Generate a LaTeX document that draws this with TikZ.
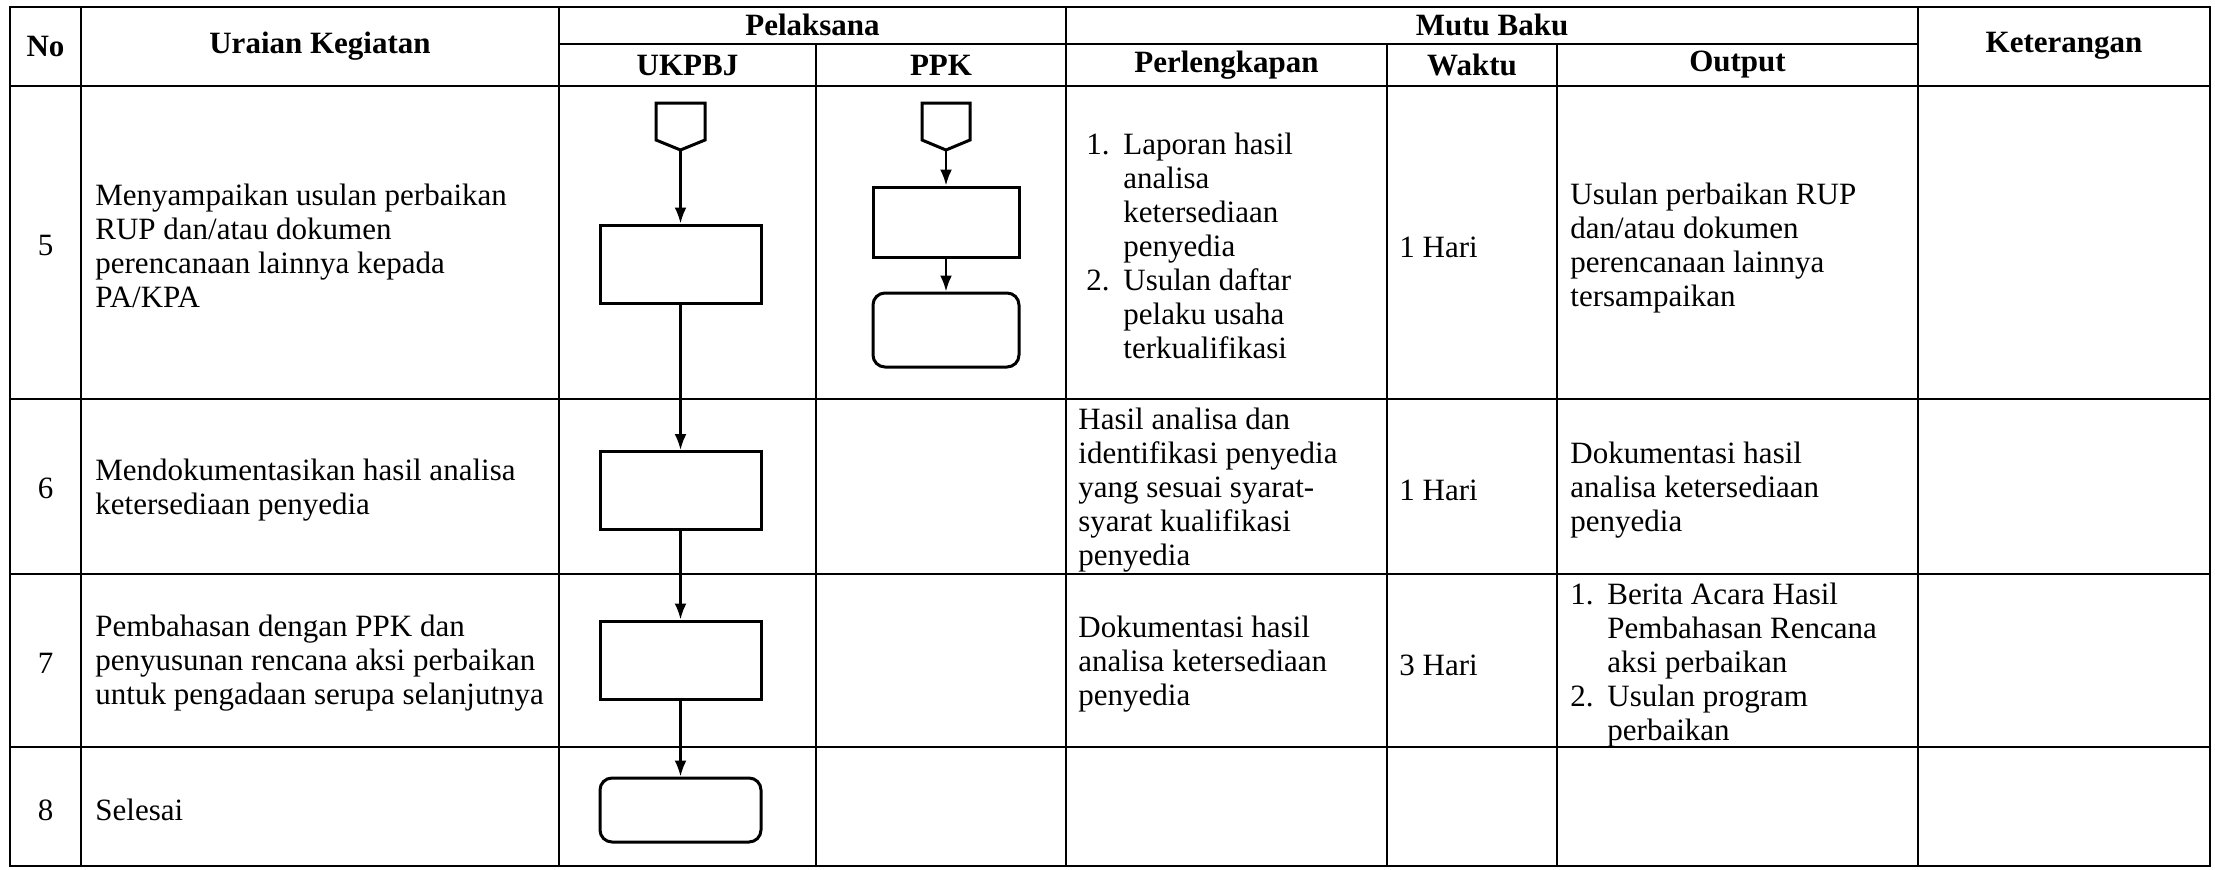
\documentclass[tikz,border=0pt]{standalone}
\usepackage{fontspec}
\setmainfont{Liberation Serif}
\usetikzlibrary{arrows.meta}
\newcommand{\numitem}[1]{\makebox[18.5pt][l]{#1}}
\newcommand{\numindent}{\hspace*{18.5pt}}
\tikzset{
  grid/.style={line width=1pt},
  txt/.style={anchor=west, align=left, inner sep=0pt, font=\fontsize{15.5}{17}\selectfont},
  num/.style={inner sep=0pt, font=\fontsize{15.5}{17}\selectfont},
  hdr/.style={inner sep=0pt, font=\bfseries\fontsize{15.5}{17}\selectfont},
  proc/.style={draw, line width=1.5pt, minimum width=80.5pt, minimum height=39pt, inner sep=0pt},
  term/.style={proc, rounded corners=6pt},
  flow/.style={line width=1.2pt, -{Latex[length=8pt,width=6pt]}},
}
\begin{document}
\begin{tikzpicture}[x=0.5pt, y=-0.5pt]
\fill[white] (0,0) rectangle (2215,869);
\useasboundingbox (0,0) rectangle (2215,869);
% table frame
\draw[grid] (10,7) rectangle (2210,866);
\draw[grid] (559,44) -- (1918,44);
\draw[grid] (10,86) -- (2210,86);
\draw[grid] (10,399) -- (2210,399);
\draw[grid] (10,574) -- (2210,574);
\draw[grid] (10,747) -- (2210,747);
\draw[grid] (81,7) -- (81,866);
\draw[grid] (559,7) -- (559,866);
\draw[grid] (1066,7) -- (1066,866);
\draw[grid] (1918,7) -- (1918,866);
\draw[grid] (816,44) -- (816,866);
\draw[grid] (1387,44) -- (1387,866);
\draw[grid] (1557,44) -- (1557,866);
% header
\node[hdr] (hno) at (45.5,46) {No};
\node[hdr] (hur) at (320,46) {Uraian Kegiatan};
\node[hdr] (hpel) at (812.5,25) {Pelaksana};
\node[hdr] (hukp) at (687.5,65) {UKPBJ};
\node[hdr] (hppk) at (941,65) {PPK};
\node[hdr] (hmutu) at (1492,25) {Mutu Baku};
\node[hdr] (hperl) at (1226.5,65) {Perlengkapan};
\node[hdr] (hwkt) at (1472,65) {Waktu};
\node[hdr] (hout) at (1737.5,65) {Output};
\node[hdr] (hket) at (2064,46) {Keterangan};
% row 5
\node[num] (no5) at (45.5,245) {5};
\node[txt] (ur5) at (95,246) {Menyampaikan usulan perbaikan\\RUP dan/atau dokumen\\perencanaan lainnya kepada\\PA/KPA};
\node[txt] (pl5) at (1086,246) {\numitem{1.}Laporan hasil\\\numindent analisa\\\numindent ketersediaan\\\numindent penyedia\\\numitem{2.}Usulan daftar\\\numindent pelaku usaha\\\numindent terkualifikasi};
\node[txt] (wk5) at (1399,247) {1 Hari};
\node[txt] (out5) at (1570,248) {Usulan perbaikan RUP\\dan/atau dokumen\\perencanaan lainnya\\tersampaikan};
% row 6
\node[num] (no6) at (45.5,488) {6};
\node[txt] (ur6) at (95,490) {Mendokumentasikan hasil analisa\\ketersediaan penyedia};
\node[txt] (pl6) at (1078,490) {Hasil analisa dan\\identifikasi penyedia\\yang sesuai syarat-\\syarat kualifikasi\\penyedia};
\node[txt] (wk6) at (1399,490) {1 Hari};
\node[txt] (out6) at (1570,490) {Dokumentasi hasil\\analisa ketersediaan\\penyedia};
% row 7
\node[num] (no7) at (45.5,663) {7};
\node[txt] (ur7) at (95,663) {Pembahasan dengan PPK dan\\penyusunan rencana aksi perbaikan\\untuk pengadaan serupa selanjutnya};
\node[txt] (pl7) at (1078,664) {Dokumentasi hasil\\analisa ketersediaan\\penyedia};
\node[txt] (wk7) at (1399,665) {3 Hari};
\node[txt] (out7) at (1570,665) {\numitem{1.}Berita Acara Hasil\\\numindent Pembahasan Rencana\\\numindent aksi perbaikan\\\numitem{2.}Usulan program\\\numindent perbaikan};
% row 8
\node[num] (no8) at (45.5,810) {8};
\node[txt] (ur8) at (95,810) {Selesai};
% flow UKPBJ
\draw[line width=1.5pt] (656,103) -- (705,103) -- (705,140) -- (680.5,150) -- (656,140) -- cycle;
\coordinate (offU) at (680.5,150);
\node[proc] (u5) at (680.5,264) {};
\node[proc] (u6) at (680.5,490.5) {};
\node[proc] (u7) at (680.5,660) {};
\node[term, minimum height=32pt] (u8) at (680.5,810) {};
\draw[flow] (offU) -- (u5);
\draw[flow] (u5) -- (u6);
\draw[flow] (u6) -- (u7);
\draw[flow] (u7) -- (u8);
% flow PPK
\draw[line width=1.5pt] (922,103) -- (970,103) -- (970,140) -- (946,150) -- (922,140) -- cycle;
\coordinate (offP) at (946,150);
\node[proc, minimum width=73pt, minimum height=35pt] (p5) at (946,222) {};
\node[term, minimum width=73pt, minimum height=37pt] (p5end) at (946,330) {};
\draw[flow] (offP) -- (p5);
\draw[flow] (p5) -- (p5end);
\end{tikzpicture}
\end{document}
